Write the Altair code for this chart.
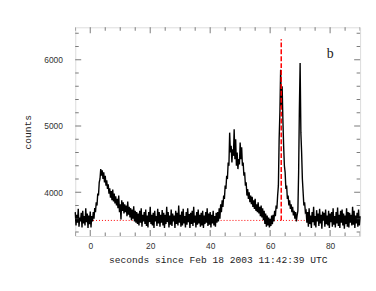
import altair as alt
import pandas as pd

# sampling: every 0.25 s from -5.00 to 90.00 (one line per second)
t_start = -5.0
t_step = 0.25
counts = [
    3700, 3500, 3660, 3540,  # -5
    3750, 3480, 3620, 3560,  # -4
    3690, 3470, 3720, 3530,  # -3
    3640, 3500, 3760, 3550,  # -2
    3680, 3460, 3650, 3520,  # -1
    3710, 3470, 3640, 3560,  # 0
    3700, 3600, 3760, 3700,  # 1
    3850, 3800, 3980, 3950,  # 2
    4150, 4200, 4350, 4250,  # 3
    4330, 4200, 4300, 4150,  # 4
    4250, 4100, 4180, 4050,  # 5
    4120, 3980, 4060, 3920,  # 6
    4020, 3880, 4040, 3860,  # 7
    3980, 3830, 3940, 3800,  # 8
    3900, 3760, 3950, 3700,  # 9
    3820, 3590, 3880, 3720,  # 10
    3850, 3680, 3820, 3700,  # 11
    3800, 3640, 3860, 3660,  # 12
    3780, 3620, 3760, 3580,  # 13
    3740, 3600, 3790, 3560,  # 14
    3720, 3540, 3700, 3520,  # 15
    3680, 3500, 3720, 3540,  # 16
    3760, 3480, 3660, 3560,  # 17
    3700, 3520, 3740, 3490,  # 18
    3650, 3470, 3700, 3550,  # 19
    3780, 3520, 3660, 3500,  # 20
    3690, 3460, 3720, 3560,  # 21
    3640, 3490, 3750, 3530,  # 22
    3700, 3480, 3660, 3540,  # 23
    3730, 3500, 3690, 3460,  # 24
    3660, 3520, 3780, 3550,  # 25
    3700, 3470, 3650, 3510,  # 26
    3740, 3490, 3680, 3560,  # 27
    3650, 3460, 3720, 3520,  # 28
    3690, 3500, 3800, 3540,  # 29
    3660, 3480, 3710, 3500,  # 30
    3750, 3530, 3640, 3470,  # 31
    3700, 3510, 3760, 3550,  # 32
    3670, 3460, 3690, 3520,  # 33
    3720, 3490, 3780, 3540,  # 34
    3650, 3470, 3700, 3510,  # 35
    3740, 3530, 3660, 3480,  # 36
    3690, 3500, 3720, 3460,  # 37
    3650, 3520, 3700, 3540,  # 38
    3760, 3490, 3680, 3510,  # 39
    3700, 3470, 3660, 3530,  # 40
    3720, 3500, 3640, 3480,  # 41
    3690, 3540, 3700, 3560,  # 42
    3760, 3600, 3820, 3700,  # 43
    3880, 3780, 3950, 3900,  # 44
    4100, 4050, 4250, 4200,  # 45
    4450, 4400, 4900, 4600,  # 46
    4700, 4450, 4650, 4550,  # 47
    4950, 4500, 4800, 4400,  # 48
    4600, 4350, 4500, 4420,  # 49
    4750, 4500, 4680, 4400,  # 50
    4450, 4250, 4300, 4100,  # 51
    4150, 3950, 4050, 3900,  # 52
    4000, 3850, 3950, 3820,  # 53
    3930, 3780, 3880, 3750,  # 54
    3900, 3720, 3820, 3700,  # 55
    3850, 3680, 3780, 3640,  # 56
    3800, 3620, 3760, 3580,  # 57
    3720, 3520, 3680, 3480,  # 58
    3650, 3500, 3620, 3470,  # 59
    3600, 3490, 3650, 3520,  # 60
    3660, 3560, 3720, 3640,  # 61
    3800, 3750, 3950, 4100,  # 62
    4800, 5200, 5850, 5300,  # 63
    5600, 5100, 4700, 4400,  # 64
    4300, 4050, 4100, 3900,  # 65
    3950, 3800, 3880, 3750,  # 66
    3820, 3700, 3780, 3650,  # 67
    3720, 3600, 3700, 3560,  # 68
    3650, 3720, 4300, 5250,  # 69
    5950, 4900, 4600, 4200,  # 70
    4000, 3800, 3850, 3700,  # 71
    3720, 3540, 3700, 3480,  # 72
    3760, 3520, 3650, 3460,  # 73
    3700, 3550, 3780, 3500,  # 74
    3640, 3470, 3730, 3560,  # 75
    3680, 3490, 3750, 3530,  # 76
    3660, 3450, 3710, 3570,  # 77
    3690, 3480, 3740, 3520,  # 78
    3650, 3500, 3720, 3460,  # 79
    3680, 3550, 3700, 3480,  # 80
    3760, 3510, 3640, 3470,  # 81
    3700, 3530, 3770, 3490,  # 82
    3660, 3460, 3720, 3540,  # 83
    3740, 3500, 3680, 3450,  # 84
    3650, 3520, 3760, 3480,  # 85
    3700, 3470, 3690, 3540,  # 86
    3660, 3500, 3780, 3510,  # 87
    3720, 3460, 3650, 3530,  # 88
    3690, 3480, 3740, 3500,  # 89
    3640,                    # 90
]
assert len(counts) == 381
times = [t_start + t_step * i for i in range(len(counts))]

background_level = [3575]
marker_time = [63.7]
marker_top = [6310]
panel_label = ["b"]
panel_label_x = [80]
panel_label_y = [6090]

x_major = [0, 20, 40, 60, 80]
x_ticks = list(range(-5, 91, 5))
y_major = [4000, 5000, 6000]
y_ticks = list(range(3400, 6401, 200))

X_DOM = [-5, 90]
Y_DOM = [3340, 6490]
W, H = 288, 211
MAJOR_LEN, MINOR_LEN = 6, 3.5

xs = alt.Scale(domain=X_DOM, nice=False, zero=False)
ys = alt.Scale(domain=Y_DOM, nice=False, zero=False)

TITLE_FONT = "Liberation Mono"
LABEL_FONT = "Liberation Sans"
TICK_COLOR = "#444"

series = pd.DataFrame({"t": times, "c": counts})
hdf = pd.DataFrame({"x0": [X_DOM[0]], "x1": [X_DOM[1]], "y": background_level})
vdf = pd.DataFrame({"x": marker_time, "y0": background_level, "y1": marker_top})
tdf = pd.DataFrame({"x": panel_label_x, "y": panel_label_y, "s": panel_label})
xt = pd.DataFrame({"v": x_ticks,
                   "len": [2 * (MAJOR_LEN if v % 20 == 0 else MINOR_LEN) for v in x_ticks]})
yt = pd.DataFrame({"v": y_ticks,
                   "len": [2 * (MAJOR_LEN if v % 1000 == 0 else MINOR_LEN) for v in y_ticks]})

line = alt.Chart(series).mark_line(color="black", strokeWidth=1.4).encode(
    x=alt.X("t:Q", scale=xs, axis=alt.Axis(
        orient="bottom", values=x_major, ticks=False, domain=False, grid=False, format="d",
        labelPadding=6, labelFont=LABEL_FONT, labelFontSize=8.5, labelColor="#333",
        title="seconds since Feb 18 2003 11:42:39 UTC", titleFont=TITLE_FONT,
        titleFontSize=9.7, titleFontWeight="normal", titleColor="#222", titlePadding=4)),
    y=alt.Y("c:Q", scale=ys, axis=alt.Axis(
        orient="left", values=y_major, ticks=False, domain=False, grid=False, format="d",
        labelPadding=13, labelFont=LABEL_FONT, labelFontSize=8.5, labelColor="#333",
        title="counts", titleFont=TITLE_FONT, titleFontSize=9.7,
        titleFontWeight="normal", titleColor="#222", titlePadding=11)),
)

hrule = alt.Chart(hdf).mark_rule(color="red", strokeWidth=1, strokeDash=[1, 2]).encode(
    x=alt.X("x0:Q", scale=xs), x2="x1:Q", y=alt.Y("y:Q", scale=ys),
)

vrule = alt.Chart(vdf).mark_rule(color="red", strokeWidth=1.5, strokeDash=[5, 2]).encode(
    x=alt.X("x:Q", scale=xs), y=alt.Y("y0:Q", scale=ys), y2="y1:Q",
)

label = alt.Chart(tdf).mark_text(font="Liberation Serif", fontSize=14, color="#222").encode(
    x=alt.X("x:Q", scale=xs), y=alt.Y("y:Q", scale=ys), text="s:N",
)

def xtick_layer(ypix):
    return alt.Chart(xt).mark_tick(color=TICK_COLOR, thickness=1, clip=True, orient="vertical").encode(
        x=alt.X("v:Q", scale=xs),
        y=alt.value(ypix),
        size=alt.Size("len:Q", scale=None, legend=None),
    )

def ytick_layer(xpix):
    return alt.Chart(yt).mark_tick(color=TICK_COLOR, thickness=1, clip=True, orient="horizontal").encode(
        y=alt.Y("v:Q", scale=ys),
        x=alt.value(xpix),
        size=alt.Size("len:Q", scale=None, legend=None),
    )

chart = alt.layer(
    hrule, line, vrule, label,
    xtick_layer(0), xtick_layer(H), ytick_layer(0), ytick_layer(W),
).properties(
    width=W, height=H,
    autosize=alt.AutoSizeParams(type="none"),
    padding={"left": 68, "top": 18, "right": 8, "bottom": 46},
).configure_view(stroke="#444", strokeWidth=1).configure(background="white")

chart.save("out.html", embed_options={"renderer": "svg", "actions": False})
